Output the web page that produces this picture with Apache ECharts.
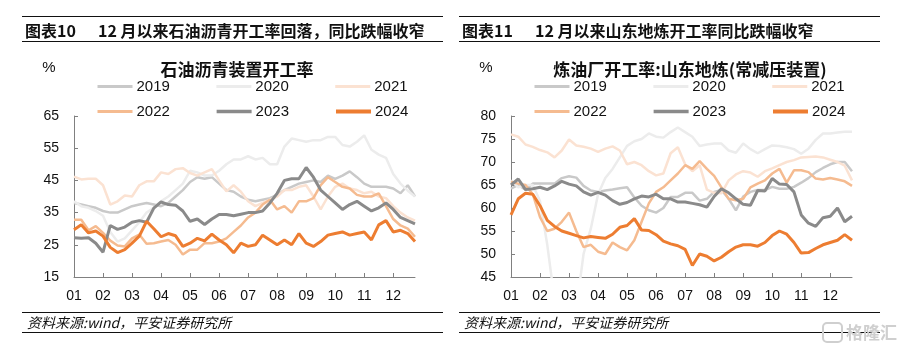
<!DOCTYPE html>
<html>
<head>
<meta charset="utf-8">
<script src="https://cdn.jsdelivr.net/npm/echarts@6/dist/echarts.min.js"></script>
<style>
  html, body { margin: 0; padding: 0; background: #fff; }
  #chart { width: 897px; height: 350px; }
</style>
</head>
<body>
<div id="chart"></div>
<script>
// x axis: 4 readings per month, label shown on the first one
const months = ['01', '02', '03', '04', '05', '06', '07', '08', '09', '10', '11', '12'];
const weekSlots = ['a', 'b', 'c', 'd'];
const categories = months.flatMap(m => weekSlots.map(w => m + w));

const years = ['2019', '2020', '2021', '2022', '2023', '2024'];

// 图表10 石油沥青装置开工率 (%)
const asphalt2019 = [38,37.5,37,36.5,35.5,35,35,36,37,37.5, 38,37.5,37,38,40,42,44.5,46,45.5,46, 44,42,41.5,40,39,38.5,39,39.5,40.5,42, 43,44,44.5,45,44.5,46.5,45.5,46.5,47.8,46, 44,43,43,43,42.5,41,43.5,40];
const asphalt2020 = [38.5,37,36.5,35.5,34,29,26,27,29.5,32, 35,36.5,38.5,40,42,44,48,47.5,46.5,46.5, 48,50,51.5,51.5,52.5,51.5,52,50,50,55.5, 58,57.5,57,57.5,57.5,58.5,58.5,56,55.5,57, 59,54.5,53,52,47,44,41.8,40];
const asphalt2021 = [46.2,45.3,45.5,45.5,43.5,37.5,38.5,40.3,40,43.5, 44.7,44.7,47.5,47,48.5,48.8,47.3,46.5,47.5,48.5, 45,41.6,43.5,41.5,38.5,37,38,39,40,42, 42,43,43.5,40,36,40,43,44,42.5,42, 41,41.5,40,39.5,37,35,33.5,32.5];
const asphalt2022 = [32.8,32.8,29.5,30.8,28.7,26.3,24.8,24.5,27,28.2, 25.3,25.5,26,26.5,25,22,23.5,23.5,25.5,25.5, 26,27,29,31,33.5,35,37.5,39,36,37, 35,38.5,38.5,39.5,43.5,46,44.5,43,42.5,40.5, 40,40,41,37,33,31,30,27.5];
const asphalt2023 = [27.2,27,27.2,25.5,22.7,31,29.8,30.5,32,32.5, 32,36.4,38.3,37.5,37.3,35.5,32.3,33,31.3,33, 34.4,34.4,34,34.5,35,35,35.5,38,41,45, 45.5,45.5,49,46,42,40,38,36,37.5,38.5, 37,35.5,36.5,38,36,33.5,32.5,31.5];
const asphalt2024 = [29.7,31.2,28.7,29.3,27.7,24.2,22.6,23.5,25.5,27.7, 32.3,30,27.5,28.5,27.8,24.5,25.5,27,26.2,28.3, 26.5,25,22.5,25.5,24.5,25,28,26.5,25,26.5, 25,28.5,25.5,24.5,26,28,28.5,29,28,28.5, 29,26.5,31.2,32.5,29,29.5,28.5,26];

// 图表11 炼油厂开工率:山东地炼(常减压装置) (%)
const shandong2019 = [64.2,65,64,65.3,65.3,65.3,65.3,66.5,66.9,66.6, 64.8,63.8,63.5,63.8,64,64.3,64.5,62.3,60.5,59.5, 59,60,62.4,62.4,63.3,63.3,61.6,62,63.5,63.9, 62,59.5,62.5,63.5,63.9,63.9,64.6,64.2,64.2,64.6, 65.5,66.5,67.8,68.7,69.5,70,70,68];
const shandong2020 = [66,64.5,65,65,61.5,52,40,32,30,38, 50,55.5,63,66.5,68.5,71,73.5,74.5,75,76.2, 75.5,75.3,76.5,77.5,76.5,75.5,73.5,73.8,74,74, 72.5,72,74,72.8,71.9,72.8,73.6,73.5,73.2,72.8, 71.8,72.9,74.8,76.2,76.2,76.4,76.6,76.6];
const shandong2021 = [76,75.5,73.8,73.3,72.6,72.1,71,72.5,74.9,73.6, 73.3,72.9,72.2,72.9,73.4,72.5,69.5,70,69.3,68, 67.1,67.5,71.9,73.2,69.5,68,69.3,64,63.3,63.2, 66,67.3,68,67.7,66.8,68,68.6,69.3,70,70.4, 71,71.1,71.2,71,70.5,70,69.2,66];
const shandong2022 = [65.7,65.3,65,63,58,55,55.5,57,59,55, 51.5,52,50.5,50,52.5,51.5,50.8,53,57,61, 63.5,64.5,66,67.5,69.3,68.5,70.2,68.5,67,64.5, 62,61.7,62,64.5,65.3,66,67.5,68.5,65.5,68.2, 68.2,67.8,66.4,66.2,66.5,66.2,65.8,64.8];
const shandong2023 = [65,66.3,64,64.2,64.5,64,64.8,65.8,65.2,64.8, 63.5,62.8,63.4,62.8,61.6,60.8,61.2,62,62.6,62.4, 63,62,62,61.3,61.3,61,60.7,60.2,62.5,64.2, 63.3,62,60.8,60.6,63.8,63.7,66.4,65.2,65.1,63.5, 58.5,56.7,56,57.9,58.2,60,57,58.2];
const shandong2024 = [58.5,62,63.2,63,60.5,57.3,56,55,54.5,54, 53.5,53.8,53.6,53.4,54.3,55.8,56.2,57.7,55.2,55.1, 54.2,52.8,52.2,51.8,51,47.5,50,49.5,48.5,49.3, 50.5,51.5,52,52,51.7,52.5,54,55,54.3,52.5, 50.2,50.3,51.2,52,52.5,53,54.2,53];

const lineColors = ['#c9c9c9', '#ececec', '#fbe2d2', '#f5bb90', '#8a8a8a', '#ed7d31'];
const lineWidths = [2.5, 2.5, 2.5, 2.5, 3, 3];
const legendWidths = [3, 3, 3, 3, 3.5, 4];

const FONT = '"Liberation Sans", Arial, "Noto Sans CJK SC", sans-serif';
const CJK = '"Noto Sans CJK SC", "Liberation Sans", sans-serif';

const isMonthStart = (idx, value) => value.endsWith('a');

function makeSeries(list, gi) {
  return list.map((data, i) => ({
    name: years[i],
    type: 'line',
    xAxisIndex: gi,
    yAxisIndex: gi,
    data: data,
    symbol: 'none',
    silent: true,
    lineStyle: { color: lineColors[i], width: lineWidths[i] },
    itemStyle: { color: lineColors[i] }
  }));
}

function xAxisFor(gi) {
  return {
    type: 'category',
    gridIndex: gi,
    data: categories,
    boundaryGap: false,
    axisLine: { lineStyle: { color: '#808080', width: 1 } },
    axisTick: { show: true, inside: true, length: 4, interval: isMonthStart, lineStyle: { color: '#808080' } },
    axisLabel: {
      interval: isMonthStart,
      formatter: v => v.slice(0, 2),
      color: '#111',
      fontSize: 14,
      fontFamily: FONT,
      margin: 12
    },
    splitLine: { show: false }
  };
}

function yAxisFor(gi, min, max, step) {
  return {
    type: 'value',
    gridIndex: gi,
    min: min,
    max: max,
    interval: step,
    axisLine: { show: true, lineStyle: { color: '#808080', width: 1 } },
    axisTick: { show: true, inside: true, length: 4, lineStyle: { color: '#808080' } },
    axisLabel: { color: '#111', fontSize: 14, fontFamily: FONT, margin: 15 },
    splitLine: { show: false }
  };
}

function legendRow(left, top, names) {
  return {
    left: left,
    top: top,
    padding: 0,
    orient: 'horizontal',
    data: names.map(n => ({
      name: n,
      itemStyle: { opacity: 0 },
      lineStyle: { width: legendWidths[years.indexOf(n)], opacity: 1 }
    })),
    itemWidth: 35,
    itemHeight: 14,
    itemGap: 45,
    selectedMode: false,
    textStyle: { fontSize: 15, color: '#111', fontFamily: FONT, padding: [0, 0, 0, -1] }
  };
}

function hline(x1, x2, y) {
  return { type: 'line', shape: { x1: x1, y1: y, x2: x2, y2: y }, style: { stroke: '#111', lineWidth: 1 }, silent: true };
}

function text(x, y, str, font, align, fill) {
  return {
    type: 'text', x: x, y: y, silent: true,
    style: {
      text: str, font: font, fill: fill || '#111',
      textAlign: align || 'left', textVerticalAlign: 'middle',
      align: align || 'left', verticalAlign: 'middle'
    }
  };
}

const graphics = [];
[[0, '图表10', '12 月以来石油沥青开工率回落，同比跌幅收窄'],
 [437, '图表11', '12 月以来山东地炼开工率同比跌幅收窄']].forEach(([ox, label, head]) => {
  graphics.push(hline(22 + ox, 443 + ox, 16.5));
  graphics.push(hline(22 + ox, 443 + ox, 41.5));
  graphics.push(text(25 + ox, 31, label, 'bold 16px ' + CJK));
  graphics.push(text(98 + ox, 31, head, 'bold 16px ' + CJK));
  graphics.push(text(49 + ox, 68, '%', '15px ' + FONT, 'center'));
  graphics.push(hline(22 + ox, 443 + ox, 312.5));
  graphics.push(hline(22 + ox, 443 + ox, 332.5));
  graphics.push(text(27 + ox, 323, '资料来源:wind，平安证券研究所', 'italic 14px ' + CJK));
});
graphics.push(text(237, 70, '石油沥青装置开工率', 'bold 17px ' + CJK, 'center'));
graphics.push(text(690, 70, '炼油厂开工率:山东地炼(常减压装置)', 'bold 17px ' + CJK, 'center'));
// watermark
graphics.push({ type: 'rect', shape: { x: 823, y: 323, width: 19, height: 19, r: 4 }, style: { fill: 'none', stroke: '#cfcfcf', lineWidth: 2 }, silent: true });
graphics.push(text(846, 333, '格隆汇', 'bold 17px ' + CJK, 'left', '#cfcfcf'));

const option = {
  backgroundColor: '#fff',
  animation: false,
  grid: [
    { left: 74, top: 116, width: 341, height: 161 },
    { left: 511, top: 116, width: 341, height: 161 }
  ],
  legend: [
    legendRow(96, 79, ['2019', '2020', '2021']),
    legendRow(96, 104, ['2022', '2023', '2024']),
    legendRow(533, 79, ['2019', '2020', '2021']),
    legendRow(533, 104, ['2022', '2023', '2024'])
  ],
  xAxis: [xAxisFor(0), xAxisFor(1)],
  yAxis: [yAxisFor(0, 15, 65, 10), yAxisFor(1, 45, 80, 5)],
  series: makeSeries([asphalt2019, asphalt2020, asphalt2021, asphalt2022, asphalt2023, asphalt2024], 0)
    .concat(makeSeries([shandong2019, shandong2020, shandong2021, shandong2022, shandong2023, shandong2024], 1)),
  graphic: graphics
};

const myChart = echarts.init(document.getElementById('chart'), null, { renderer: 'canvas' });
myChart.setOption(option);
</script>
</body>
</html>
